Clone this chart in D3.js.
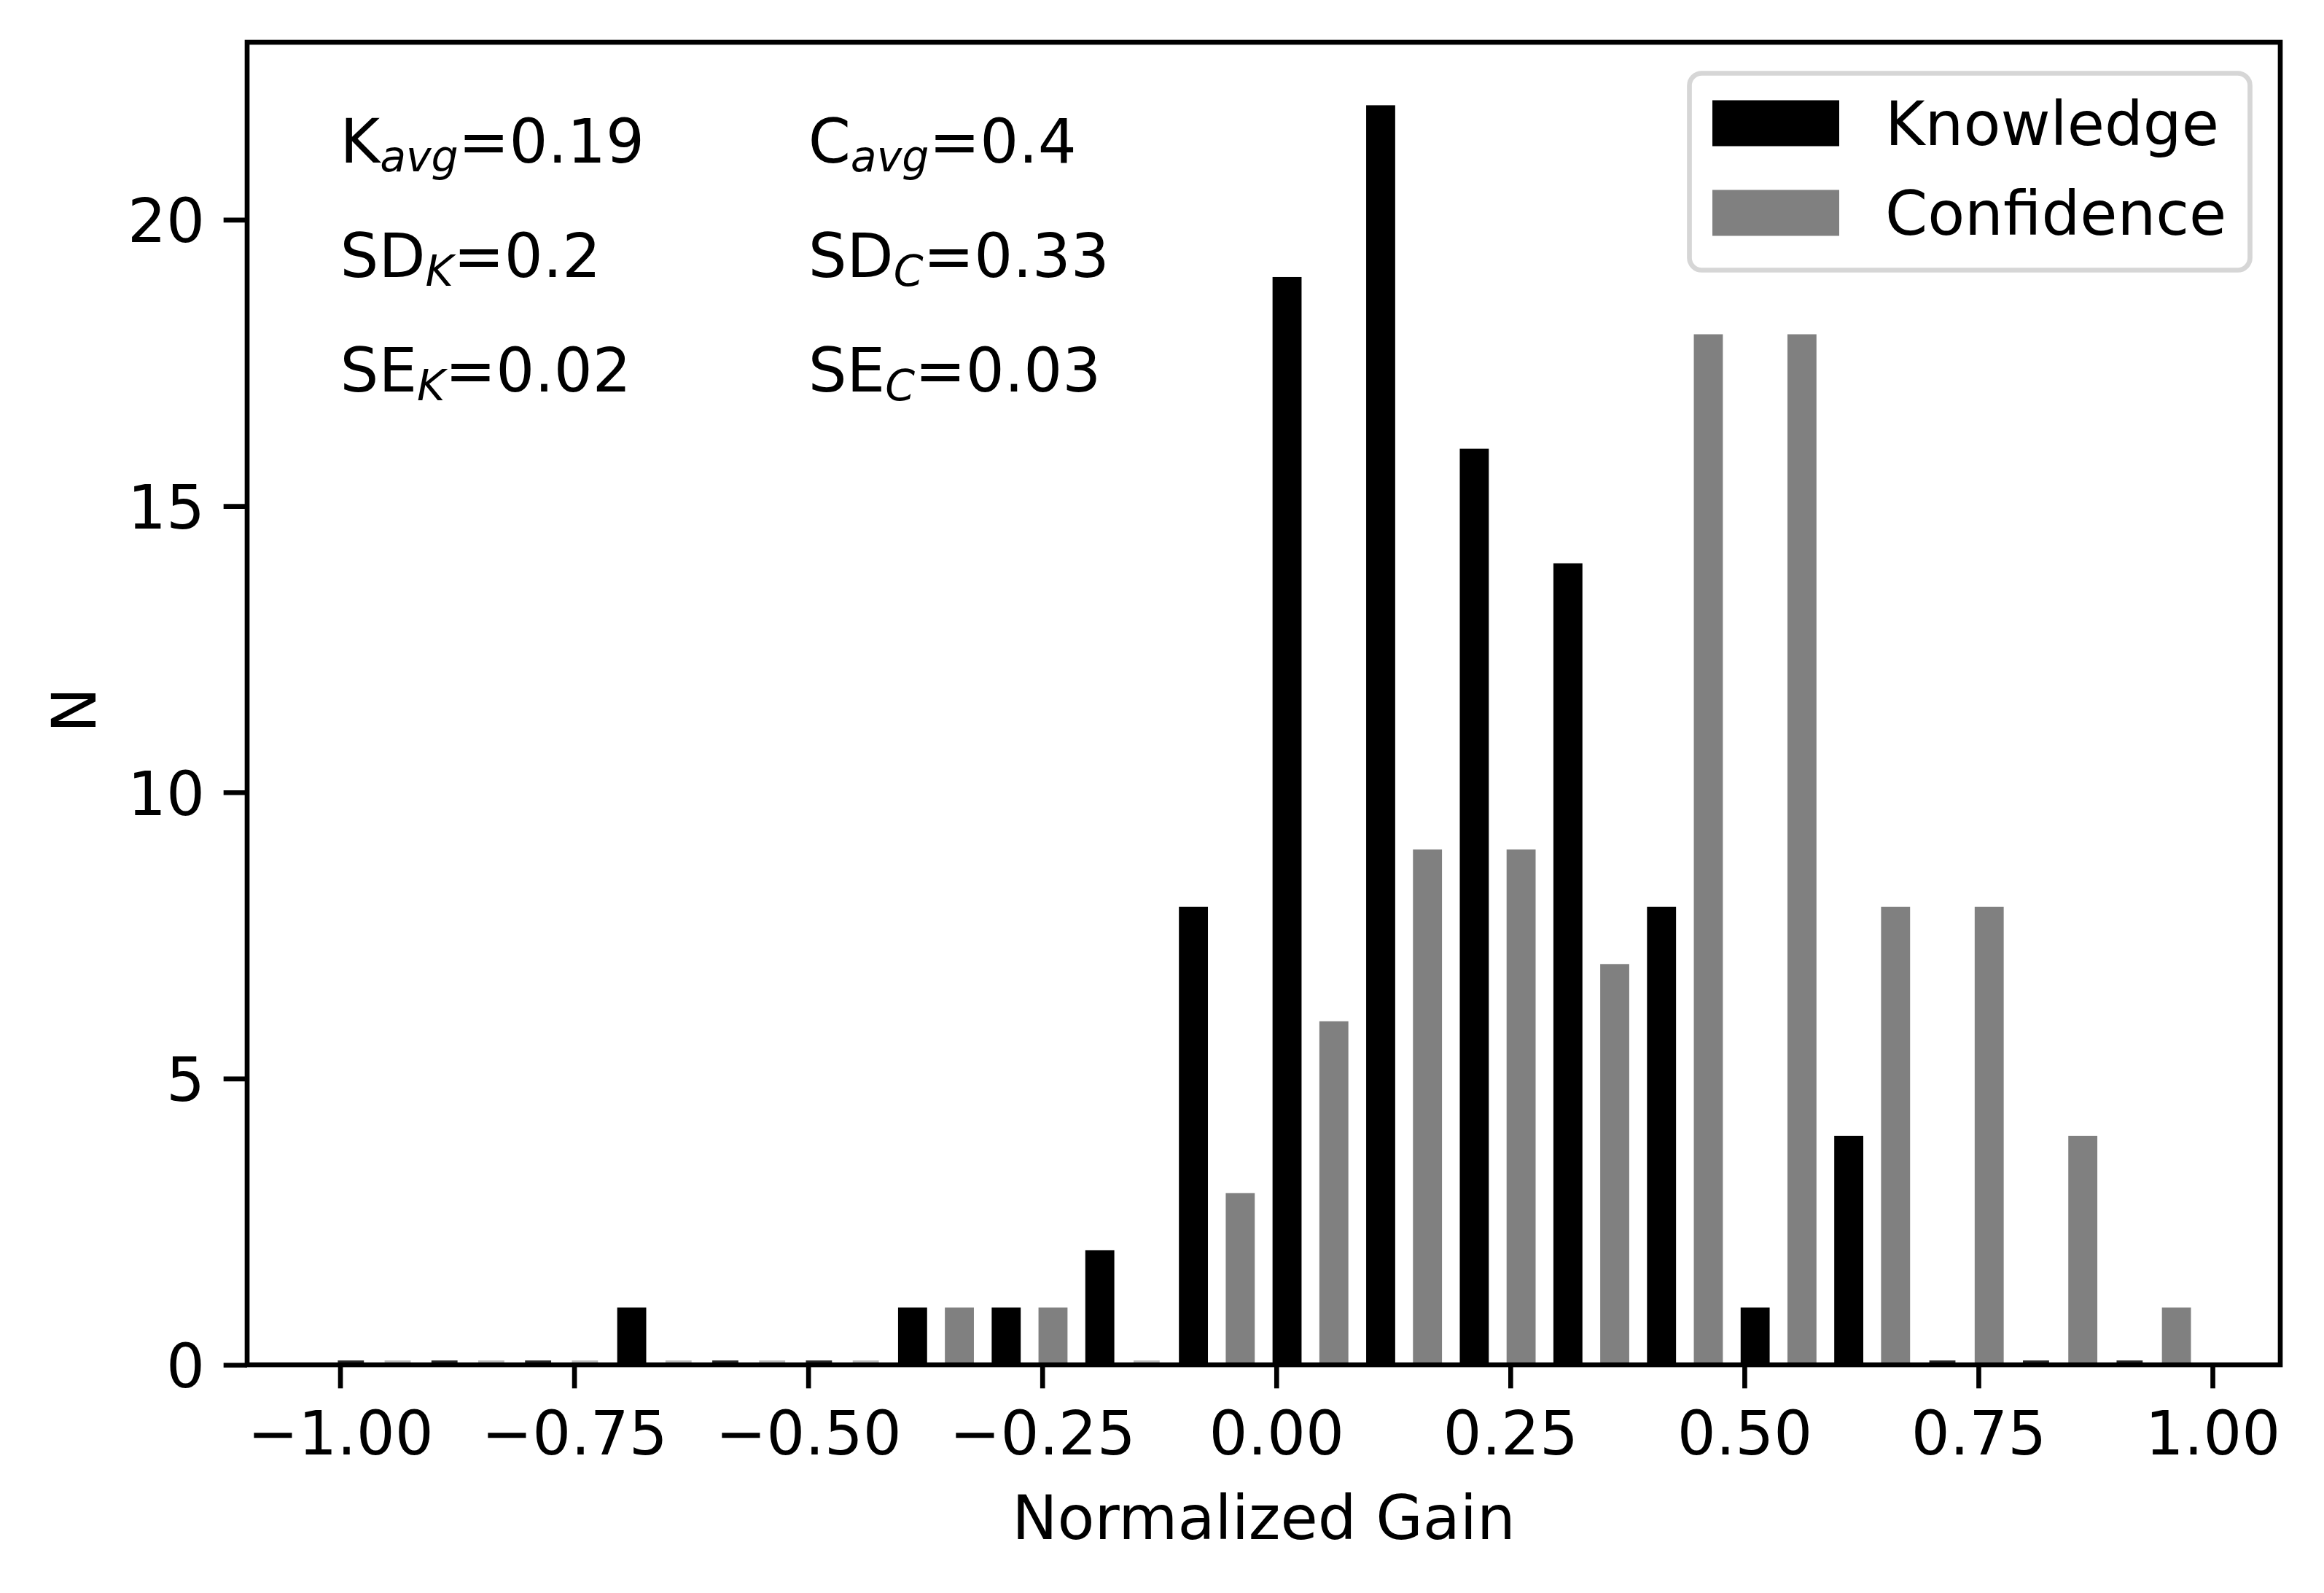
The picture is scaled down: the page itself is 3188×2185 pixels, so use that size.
<!DOCTYPE html>
<html>
<head>
<meta charset="utf-8">
<script src="https://cdn.jsdelivr.net/npm/d3@7"></script>
<style>
  html, body { margin: 0; padding: 0; background: #fff; }
  svg { display: block; }
  text { font-family: "DejaVu Sans", sans-serif; fill: #000; }
</style>
</head>
<body>
<div id="chart"></div>
<script>
// histogram bins (left edges) and counts per bin
const binStarts = [-1.0, -0.9, -0.8, -0.7, -0.6, -0.5, -0.4, -0.3, -0.2, -0.1,
    0.0, 0.1, 0.2, 0.3, 0.4, 0.5, 0.6, 0.7, 0.8, 0.9];
const knowledge = [0, 0, 0, 1, 0, 0, 1, 1, 2, 8, 19, 22, 16, 14, 8, 1, 4, 0, 0, 0];
const confidence = [0, 0, 0, 0, 0, 0, 1, 1, 0, 3, 6, 9, 9, 7, 18, 18, 8, 8, 4, 1];

const seriesNames = ['Knowledge', 'Confidence'];
const xTicks = [-1.0, -0.75, -0.5, -0.25, 0.0, 0.25, 0.5, 0.75, 1.0];
const yTicks = [0, 5, 10, 15, 20];

// summary text, one row per line
const statRows = [21, 19, 17];
const statsK = [
    {main: 'K', sub: 'avg', value: '0.19'},
    {main: 'SD', sub: 'K', value: '0.2'},
    {main: 'SE', sub: 'K', value: '0.02'},
];
const statsC = [
    {main: 'C', sub: 'avg', value: '0.4'},
    {main: 'SD', sub: 'C', value: '0.33'},
    {main: 'SE', sub: 'C', value: '0.03'},
];
const statColumns = [-1.0, -0.5];

/**
 * LAYOUT
 * */
const W = 3188;
const H = 2185;
const plot = {left: 339, right: 3128, top: 58, bottom: 1872};
const lw = 6.67; // 0.8pt at 600dpi
const fontSize = 83.3;
const subSize = 58.5;
const tickLen = 29;
const colors = ['#000000', '#808080'];
const barWidth = 0.031;
const barOffsets = [-0.004, 0.046];

const svg = d3.select('#chart').append('svg')
    .attr('width', W)
    .attr('height', H)
    .attr('viewBox', `0 0 ${W} ${H}`);

const x = d3.scaleLinear().domain([-1.0993, 1.0724]).range([plot.left, plot.right]);
const y = d3.scaleLinear().domain([0, 23.1]).range([plot.bottom, plot.top]);

/**
 * BARS
 * */
const addBars = (values, idx) => {
    const g = svg.append('g').attr('class', `bars-${idx}`);
    const rows = binStarts.map((b, i) => ({x0: b + barOffsets[idx], v: values[i]}));
    // non-empty bins
    g.selectAll('rect.bar')
        .data(rows.filter(d => d.v > 0))
        .join('rect')
        .attr('class', 'bar')
        .attr('x', d => x(d.x0))
        .attr('width', d => x(d.x0 + barWidth) - x(d.x0))
        .attr('y', d => y(d.v))
        .attr('height', d => y(0) - y(d.v))
        .attr('fill', colors[idx]);
    // empty bins still leave a thin stub on the axis
    g.selectAll('rect.stub')
        .data(rows.filter(d => d.v === 0))
        .join('rect')
        .attr('class', 'stub')
        .attr('x', d => x(d.x0) + 2)
        .attr('width', d => x(d.x0 + barWidth) - x(d.x0) - 4)
        .attr('y', y(0) - 6)
        .attr('height', 6)
        .attr('fill', colors[idx])
        .attr('opacity', idx === 0 ? 0.85 : 0.55);
};
addBars(knowledge, 0);
addBars(confidence, 1);

/**
 * AXES
 * */
const xAxis = svg.append('g')
    .attr('transform', `translate(0, ${plot.bottom})`)
    .call(d3.axisBottom(x).tickValues(xTicks).tickFormat(d3.format('.2f'))
        .tickSizeInner(tickLen + lw / 2).tickSizeOuter(0));
xAxis.select('.domain').remove();
xAxis.selectAll('.tick line').attr('stroke', '#000').attr('stroke-width', lw);
xAxis.selectAll('.tick text')
    .attr('y', 123)
    .attr('dy', 0)
    .attr('font-size', fontSize)
    .attr('font-family', 'DejaVu Sans');

const yAxis = svg.append('g')
    .attr('transform', `translate(${plot.left}, 0)`)
    .call(d3.axisLeft(y).tickValues(yTicks).tickFormat(d3.format('d'))
        .tickSizeInner(tickLen + lw / 2).tickSizeOuter(0));
yAxis.select('.domain').remove();
yAxis.selectAll('.tick line').attr('stroke', '#000').attr('stroke-width', lw);
yAxis.selectAll('.tick text')
    .attr('x', -(tickLen + 29))
    .attr('dy', '0.365em')
    .attr('font-size', fontSize)
    .attr('font-family', 'DejaVu Sans');

// frame
svg.append('rect')
    .attr('x', plot.left)
    .attr('y', plot.top)
    .attr('width', plot.right - plot.left)
    .attr('height', plot.bottom - plot.top)
    .attr('fill', 'none')
    .attr('stroke', '#000')
    .attr('stroke-width', lw)
    .attr('stroke-linecap', 'square');

// axis titles
svg.append('text')
    .attr('x', (plot.left + plot.right) / 2)
    .attr('y', 2111)
    .attr('text-anchor', 'middle')
    .attr('font-size', fontSize)
    .text('Normalized Gain');

svg.append('text')
    .attr('transform', 'rotate(-90)')
    .attr('x', -974)
    .attr('y', 131)
    .attr('text-anchor', 'middle')
    .attr('font-size', fontSize)
    .text('N');

/**
 * STATS TEXT
 * */
const addStats = (stats, col) => {
    stats.forEach((s, i) => {
        const t = svg.append('text')
            .attr('x', x(statColumns[col]))
            .attr('y', y(statRows[i]))
            .attr('font-size', fontSize);
        t.append('tspan').text(s.main);
        t.append('tspan')
            .attr('font-size', subSize)
            .attr('font-style', 'italic')
            .attr('dy', 12)
            .text(s.sub);
        t.append('tspan')
            .attr('dy', -12)
            .text(`=${s.value}`);
    });
};
addStats(statsK, 0);
addStats(statsC, 1);

/**
 * LEGEND
 * */
const legend = svg.append('g').attr('class', 'legend');
legend.append('rect')
    .attr('x', 2317.5)
    .attr('y', 100.5)
    .attr('width', 769)
    .attr('height', 270)
    .attr('rx', 17)
    .attr('ry', 17)
    .attr('fill', '#fff')
    .attr('stroke', '#d6d6d6')
    .attr('stroke-width', lw);

const legendRows = [169, 292];
seriesNames.forEach((name, i) => {
    legend.append('rect')
        .attr('x', 2349)
        .attr('y', legendRows[i] - 31.5)
        .attr('width', 174)
        .attr('height', 63)
        .attr('fill', colors[i]);
    legend.append('text')
        .attr('x', 2586)
        .attr('y', legendRows[i] + 30)
        .attr('font-size', fontSize)
        .text(name);
});
</script>
</body>
</html>
